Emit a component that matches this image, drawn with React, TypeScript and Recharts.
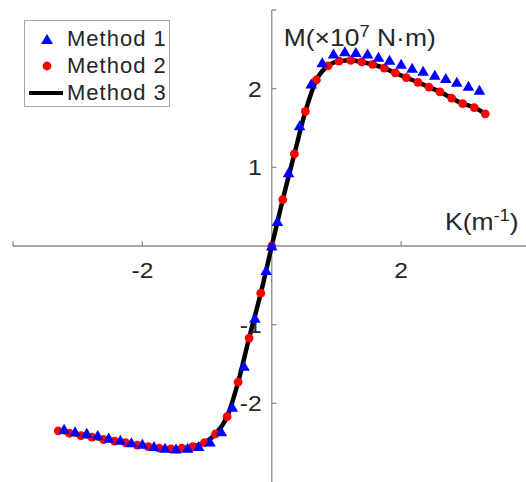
import React from 'react';
import {
  ComposedChart,
  Line,
  Scatter,
  XAxis,
  YAxis,
  ReferenceLine,
  ReferenceDot,
} from 'recharts';

// Method 1 (blue triangles)
const method1K = [
  -3.21, -3.04, -2.86, -2.69, -2.52, -2.34, -2.17, -2.0, -1.82, -1.65, -1.48, -1.3, -1.13, -0.955,
  -0.78, -0.61, -0.43, -0.26, -0.087, 0, 0.087, 0.26, 0.43, 0.61, 0.78, 0.955, 1.13, 1.3, 1.48,
  1.65, 1.82, 2.0, 2.17, 2.34, 2.52, 2.69, 2.86, 3.04, 3.21,
];
const method1M = [
  -2.33, -2.36, -2.38, -2.41, -2.44, -2.47, -2.5, -2.52, -2.55, -2.57, -2.58, -2.57, -2.55, -2.49,
  -2.36, -2.05, -1.53, -0.92, -0.31, 0, 0.31, 0.93, 1.53, 2.06, 2.33, 2.44, 2.47, 2.46, 2.44,
  2.4, 2.36, 2.31, 2.26, 2.22, 2.17, 2.13, 2.08, 2.03, 1.98,
];

// Method 2 (red dots)
const method2K = [
  -3.3, -3.13, -2.95, -2.78, -2.6, -2.43, -2.26, -2.08, -1.91, -1.74, -1.56, -1.39, -1.22, -1.04,
  -0.87, -0.69, -0.52, -0.35, -0.17, 0, 0.17, 0.35, 0.52, 0.69, 0.87, 1.04, 1.22, 1.39, 1.56, 1.74,
  1.91, 2.08, 2.26, 2.43, 2.6, 2.78, 2.95, 3.13, 3.3,
];
const method2M = [
  -2.35, -2.38, -2.41, -2.43, -2.46, -2.48, -2.5, -2.53, -2.55, -2.57, -2.58, -2.57, -2.55, -2.5,
  -2.39, -2.17, -1.73, -1.17, -0.6, 0, 0.59, 1.17, 1.71, 2.11, 2.29, 2.35, 2.36, 2.34, 2.31, 2.26,
  2.2, 2.14, 2.08, 2.02, 1.96, 1.88, 1.81, 1.76, 1.68,
];

// Method 3 (black line)
const method3K = method2K;
const method3M = [
  -2.35, -2.38, -2.41, -2.43, -2.46, -2.48, -2.5, -2.53, -2.55, -2.57, -2.58, -2.57, -2.55, -2.5,
  -2.39, -2.17, -1.73, -1.17, -0.6, 0, 0.59, 1.17, 1.71, 2.11, 2.29, 2.35, 2.36, 2.34, 2.31, 2.26,
  2.2, 2.14, 2.08, 2.02, 1.96, 1.88, 1.81, 1.76, 1.68,
];

const xTickMarks = [-4, -2, 2];
const xTickLabels = [-2, 2];
const yTickMarks = [-2, -1, 1, 2, 3];
const yTickLabels = [-2, -1, 1, 2];

const method1 = method1K.map((k, i) => ({ x: k, y: method1M[i] }));
const method2 = method2K.map((k, i) => ({ x: k, y: method2M[i] }));
const method3 = method3K.map((k, i) => ({ x: k, y: method3M[i] }));

const FONT = '"Liberation Sans", Arial, sans-serif';
const TEXT = '#262626';
const AXIS = '#8a8a8a';

const Triangle = (p: any) => {
  const { cx, cy } = p;
  return (
    <polygon
      points={`${cx},${cy - 5.5} ${cx + 5.8},${cy + 4.5} ${cx - 5.8},${cy + 4.5}`}
      fill="#0000ff"
    />
  );
};

const RedDot = (p: any) => <circle cx={p.cx} cy={p.cy} r={4.4} fill="#ff0000" />;

const tickText = (value: string, dx: number, dy: number, anchor: string) => (props: any) => {
  const { x, y, width, height } = props.viewBox;
  return (
    <text
      transform={`translate(${x + width / 2 + dx},${y + height / 2 + dy}) scale(1.12,1)`}
      textAnchor={anchor}
      fontFamily={FONT}
      fontSize={22}
      fill={TEXT}
    >
      {value}
    </text>
  );
};

const yTitle = (props: any) => {
  const { x, y } = props.viewBox;
  return (
    <text
      transform={`translate(${x + 13},${y + 37}) scale(1.15,1)`}
      fontFamily={FONT}
      fontSize={23}
      fill={TEXT}
    >
      M(×10
      <tspan fontSize={16} dy={-9}>7</tspan>
      <tspan dy={9}> N·m)</tspan>
    </text>
  );
};

const xTitle = (props: any) => {
  const { x, y } = props.viewBox;
  return (
    <text
      transform={`translate(${x - 80},${y - 15}) scale(1.15,1)`}
      fontFamily={FONT}
      fontSize={23}
      fill={TEXT}
    >
      K(m
      <tspan fontSize={16} dy={-9}>-1</tspan>
      <tspan dy={9}>)</tspan>
    </text>
  );
};

const LegendBox = () => {
  const rows = [
    { name: 'Method 1', kind: 'tri' },
    { name: 'Method 2', kind: 'dot' },
    { name: 'Method 3', kind: 'line' },
  ];
  return (
    <div
      style={{
        position: 'absolute',
        left: 24,
        top: 20,
        width: 146,
        height: 87,
        border: '1px solid #a6a6a6',
        background: '#fff',
        fontFamily: FONT,
        fontSize: 22,
        color: TEXT,
        paddingTop: 4,
        boxSizing: 'border-box',
      }}
    >
      {rows.map((r) => (
        <div key={r.name} style={{ display: 'flex', alignItems: 'center', height: 27 }}>
          <svg width={40} height={20} style={{ marginLeft: 2 }}>
            {r.kind === 'tri' && <polygon points="20,5 26,15 14,15" fill="#0000ff" />}
            {r.kind === 'dot' && <circle cx={20} cy={10} r={4.4} fill="#ff0000" />}
            {r.kind === 'line' && <line x1={2} y1={10} x2={36} y2={10} stroke="#000" strokeWidth={4} />}
          </svg>
          <span style={{ letterSpacing: 1 }}>{r.name}</span>
        </div>
      ))}
    </div>
  );
};

export default function App() {
  return (
    <div style={{ position: 'absolute', left: 0, top: 0, width: 526, height: 482, background: '#fff' }}>
      <ComposedChart width={526} height={482} margin={{ top: 10, right: 0, bottom: 0, left: 13 }}>
        <XAxis type="number" dataKey="x" domain={[-4, 3.93]} hide allowDataOverflow />
        <YAxis type="number" dataKey="y" domain={[-3, 3]} hide allowDataOverflow />
        <ReferenceLine y={0} stroke={AXIS} strokeWidth={1.3} />
        <ReferenceLine x={0} stroke={AXIS} strokeWidth={1.3} />
        {xTickMarks.map((t) => (
          <ReferenceLine
            key={'xt' + t}
            segment={[{ x: t, y: 0 }, { x: t, y: 0.06 }]}
            stroke={AXIS}
            strokeWidth={1.3}
          />
        ))}
        {yTickMarks.map((t) => (
          <ReferenceLine
            key={'yt' + t}
            segment={[{ x: 0, y: t }, { x: 0.07, y: t }]}
            stroke={AXIS}
            strokeWidth={1.3}
          />
        ))}
        {xTickLabels.map((t) => (
          <ReferenceDot
            key={'xl' + t}
            x={t}
            y={0}
            r={1}
            fill="none"
            stroke="none"
            label={{ content: tickText(String(t), 0, 32, 'middle') }}
          />
        ))}
        {yTickLabels.map((t) => (
          <ReferenceDot
            key={'yl' + t}
            x={0}
            y={t}
            r={1}
            fill="none"
            stroke="none"
            label={{ content: tickText(String(t), -10, 8, 'end') }}
          />
        ))}
        <ReferenceDot x={0} y={3} r={1} fill="none" stroke="none" label={{ content: yTitle }} />
        <ReferenceDot x={3.93} y={0} r={1} fill="none" stroke="none" label={{ content: xTitle }} />
        <Line
          data={method3}
          dataKey="y"
          name="Method 3"
          type="monotone"
          stroke="#000"
          strokeWidth={4.5}
          dot={false}
          isAnimationActive={false}
        />
        <Scatter data={method2} name="Method 2" shape={RedDot} isAnimationActive={false} />
        <Scatter data={method1} name="Method 1" shape={Triangle} isAnimationActive={false} />
      </ComposedChart>
      <LegendBox />
    </div>
  );
}
